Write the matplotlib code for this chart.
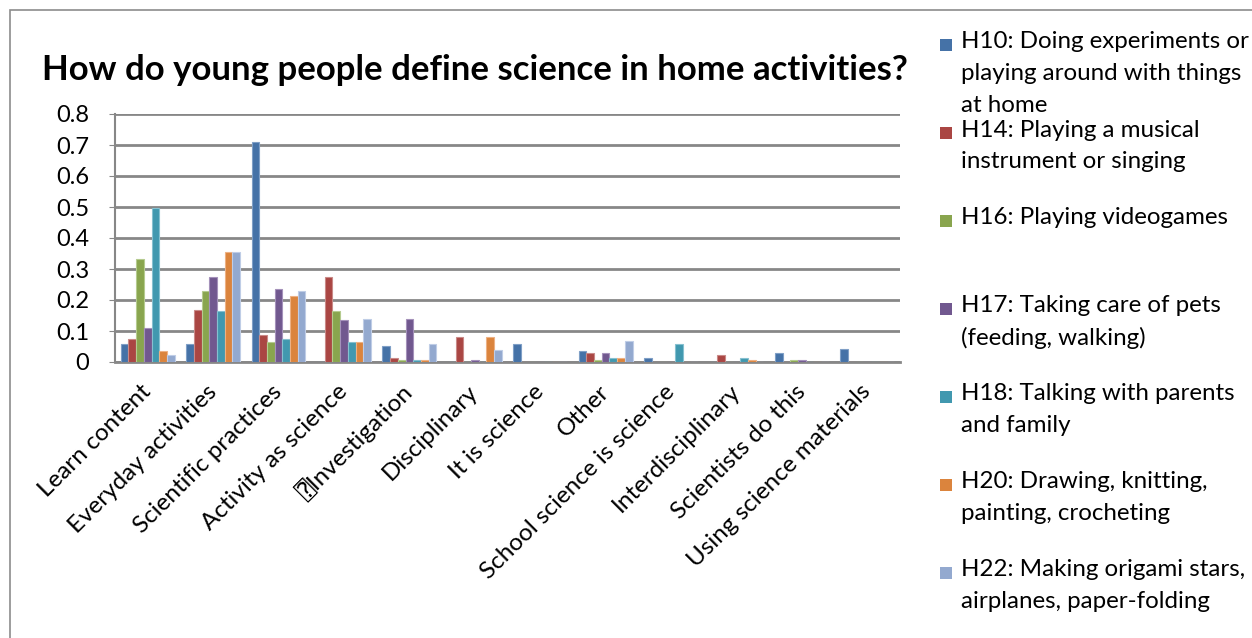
import matplotlib
matplotlib.use("Agg")
import matplotlib.pyplot as plt
import numpy as np
from matplotlib.patches import Rectangle

categories = ["Learn content", "Everyday activities", "Scientific practices",
              "Activity as science", "\u2370Investigation", "Disciplinary",
              "It is science", "Other", "School science is science",
              "Interdisciplinary", "Scientists do this", "Using science materials"]

series_labels = [
    "H10: Doing experiments or\nplaying around with things\nat home",
    "H14: Playing a musical\ninstrument or singing",
    "H16: Playing videogames",
    "H17: Taking care of pets\n(feeding, walking)",
    "H18: Talking with parents\nand family",
    "H20: Drawing, knitting,\npainting, crocheting",
    "H22: Making origami stars,\nairplanes, paper-folding",
]

h10 = [0.059, 0.059, 0.711, 0.0, 0.051, 0.0, 0.059, 0.037, 0.014, 0.0, 0.029, 0.043]
h14 = [0.073, 0.169, 0.088, 0.274, 0.014, 0.082, 0.0, 0.029, 0.0, 0.022, 0.0, 0.0]
h16 = [0.332, 0.229, 0.066, 0.163, 0.006, 0.0, 0.0, 0.006, 0.0, 0.0, 0.006, 0.0]
h17 = [0.110, 0.274, 0.237, 0.134, 0.140, 0.006, 0.0, 0.029, 0.0, 0.0, 0.006, 0.0]
h18 = [0.497, 0.163, 0.073, 0.066, 0.006, 0.0, 0.0, 0.014, 0.059, 0.014, 0.0, 0.0]
h20 = [0.037, 0.355, 0.213, 0.066, 0.006, 0.082, 0.0, 0.014, 0.0, 0.006, 0.0, 0.0]
h22 = [0.022, 0.355, 0.229, 0.140, 0.059, 0.038, 0.0, 0.067, 0.0, 0.0, 0.0, 0.0]
series = [h10, h14, h16, h17, h18, h20, h22]

colors = ["#4572A7", "#AA4643", "#89A54E", "#71588F", "#4198AF", "#DB843D", "#93A9CF"]
edge_colors = ["#7F9FC6", "#C98A88", "#B5CB8F", "#A491BA", "#86C0D0", "#EDB184", "#BFCDE6"]

yticks = [0, 0.1, 0.2, 0.3, 0.4, 0.5, 0.6, 0.7, 0.8]
ytick_labels = ["0", "0.1", "0.2", "0.3", "0.4", "0.5", "0.6", "0.7", "0.8"]

FONT = ["Lato", "DejaVu Sans", "DejaVu Sans Mono"]
plt.rcParams["font.family"] = FONT

W, H = 1252, 638
fig = plt.figure(figsize=(W / 100, H / 100), dpi=100)

# outer chart frame
fig.patches.append(Rectangle((10 / W, -0.1), 1.2, 1 - 10 / H + 0.1,
                             transform=fig.transFigure, fill=False,
                             edgecolor="#8c8c8c", linewidth=1.2))

ax = fig.add_axes([115 / W, 1 - 362 / H, (900 - 115) / W, (362 - 114) / H])

n = len(series)
gap = 1.5
bw = 1.0 / (n + gap)
x = np.arange(len(categories))
for i, (vals, c, ec) in enumerate(zip(series, colors, edge_colors)):
    offs = -0.5 + gap * bw / 2 + bw * i + bw / 2
    ax.bar(x + offs, vals, width=bw, color=c, edgecolor=ec, linewidth=0.8, zorder=3)

ax.set_xlim(-0.5, len(categories) - 0.5)
ax.set_ylim(0, 0.8)
ax.set_yticks(yticks)
ax.set_yticklabels(ytick_labels, fontsize=17)
ax.yaxis.grid(True, color="#878787", linewidth=2, zorder=0)
ax.set_axisbelow(True)
for s in ["top", "right"]:
    ax.spines[s].set_visible(False)
ax.spines["left"].set_color("#878787")
ax.spines["left"].set_linewidth(1.5)
ax.spines["bottom"].set_color("#878787")
ax.spines["bottom"].set_linewidth(2)
ax.tick_params(axis="y", length=4, color="#878787", pad=14.5)
ax.tick_params(axis="x", length=0, pad=19)
ax.set_xticks(x)
ax.set_xticklabels(categories, rotation=45, ha="right", va="center",
                   rotation_mode="anchor", fontsize=17.5)

fig.text(475 / W, 1 - 70 / H, "How do young people define science in home activities?",
         ha="center", va="center", fontsize=25, fontweight="bold")

# legend
y0 = 42
step = 88
line_h = 32
for i, (lab, c) in enumerate(zip(series_labels, colors)):
    yt = y0 + step * i
    fig.patches.append(Rectangle((940 / W, 1 - (yt + 9) / H), 12 / W, 12 / H,
                                 transform=fig.transFigure, facecolor=c,
                                 edgecolor="none"))
    for j, line in enumerate(lab.split("\n")):
        fig.text(961 / W, 1 - (yt + line_h * j) / H, line, ha="left",
                 va="center", fontsize=17.4)

fig.savefig("out.png", dpi=100, facecolor="white")
